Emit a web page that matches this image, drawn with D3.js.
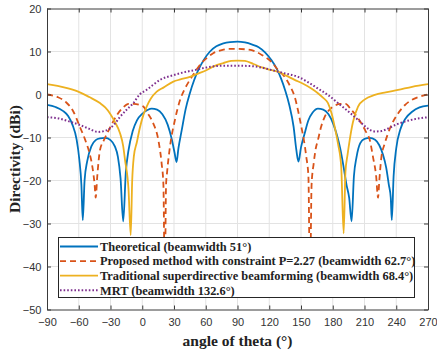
<!DOCTYPE html>
<html>
<head>
<meta charset="utf-8">
<title>Directivity vs angle of theta</title>
<script src="https://d3js.org/d3.v7.min.js"></script>
<style>
  body { margin: 0; background: #fff; }
  svg { display: block; }
  .tick text { font-family: "Liberation Sans", Arial, sans-serif; font-size: 11px; fill: #333; }
</style>
</head>
<body>
<div id="chart"></div>
<script>
// values: angle (deg) and directivity (dBi)
var thetaTheory = [-90, -82, -75, -70, -66, -62, -59.5, -57.5, -56.2, -54.5, -52, -48, -44, -40, -35, -30, -26, -23, -20.5, -18,
  -15.5, -13, -9, -5, 0, 5, 9, 14, 19, 24, 28, 30.5, 32.4, 34.2, 37.3, 41, 45, 49, 53, 58, 64, 70, 76.6, 83, 90,
  97, 104, 110, 116, 122, 127, 131, 135, 139, 143, 145.6, 147.6, 150, 153.5, 157, 161, 166, 171, 176, 180.3, 184, 187, 190,
  193, 195.5, 197.8, 200, 202.5, 206, 210, 215, 220, 224, 227.5, 230.5, 233, 234.8, 235.8, 237.5, 240, 244, 249, 255, 262, 270];
var dirTheory = [-2.4, -2.9, -3.8, -5, -7, -10.5, -15, -21, -29.2, -20, -15.5, -12, -10.6, -10.2, -10.1, -10.6, -12, -14.5, -19.5, -29.5,
  -18, -13, -8.5, -6, -4.5, -3.6, -3.3, -3.5, -4.6, -7, -10.5, -13.5, -15.7, -12.5, -8.3, -3.4, 0.3, 3.3, 5.7, 8, 10, 11.2, 11.9, 12.2, 12.3,
  12.1, 11.6, 11, 9.8, 8, 6, 3.8, 1, -2.5, -7.5, -12.9, -15.6, -12.3, -9, -6, -4.2, -3.3, -3.5, -4.6, -6.7, -9.5, -12.5, -16.5,
  -21, -24, -29.5, -19, -14.5, -11.3, -10.3, -10.1, -10.5, -11.8, -14, -17, -21, -24, -29.2, -19, -12.5, -8, -5.5, -4, -3, -2.6];

var thetaProposed = [-90, -80, -72, -65, -59, -54, -50, -47, -45, -44, -42.5, -40, -36, -30, -24, -18, -13, -8, -3, 1, 5, 10.4, 15.2, 18.3, 20,
  21.3, 22.5, 23.5, 26.2, 30.9, 35.7, 40, 45, 50, 56, 62, 67, 75, 82, 90, 98, 106, 113, 118, 122, 128, 134.6, 140, 144, 147, 150.3,
  153, 155, 157, 158.5, 160, 162, 164, 166, 169, 172.4, 177, 182, 187, 192, 197.6, 203, 207, 211, 215, 218, 221, 222.8, 224, 226,
  229, 232.3, 236, 241.7, 248, 254.3, 262, 270];
var dirProposed = [0, -0.6, -1.8, -4, -7.5, -10.5, -13.5, -17, -21, -24, -19, -13, -10.5, -7.5, -4.8, -3, -2.2, -2.2, -2.4, -2.8, -4.3, -6.7, -10.6, -16, -21,
  -45, -21, -18, -12.1, -5.9, -1.3, 1.2, 3.4, 5.3, 7.3, 8.7, 9.6, 10.3, 10.6, 10.6, 10.5, 10.1, 9.2, 8.4, 7.6, 5.8, 4.1, 1.8, -0.5, -3.5, -7.5,
  -11, -14.5, -19, -45, -21, -16, -12.5, -10.6, -7.5, -5.2, -3.5, -2.6, -2.2, -2.2, -3.6, -5.2, -6.7, -8.5, -10.6, -14.5, -19, -24, -20, -14.5,
  -11.5, -9, -6.8, -4.4, -2.5, -1.3, -0.5, 0];

var thetaTraditional = [-90, -80, -70, -59, -50, -40, -35, -30.5, -26, -21, -18, -16.3, -13, -10.9, -9.5, -8, -5, -2.3, 1, 4.2, 8, 13.7, 20,
  29.4, 36, 45, 52, 61, 68, 76.6, 84, 90, 97, 105, 113, 120, 128.3, 136, 144, 152, 159.8, 166, 171, 175.5, 179, 181.8, 185, 188, 190.3,
  192, 194, 196, 199, 203.9, 210, 219.7, 230, 241.7, 255, 270];
var dirTraditional = [2.4, 2.0, 1.4, 0.5, -0.6, -2, -3, -4.4, -6.3, -9, -12, -15.2, -22, -32.7, -20, -14.5, -11, -7.8, -4.8, -2.8, -1, 0.65, 1.6,
  3, 3.5, 4.1, 4.8, 5.7, 6.6, 7.3, 7.8, 7.9, 7.8, 7.1, 6.3, 5.8, 5.3, 4.4, 3.4, 2.5, 1.4, 0.3, -0.8, -2, -4.5, -7.5, -11.5, -16.8, -32.3,
  -18, -14, -10.6, -6.5, -2.8, -1.2, -0.1, 0.5, 1.05, 1.8, 2.4];

var thetaMRT = [-90, -80, -70, -58.8, -50, -42, -36, -30.5, -26, -21, -15, -8.4, -2.5, 4.2, 10, 16.8, 29.4, 40, 50, 60.9, 76.6, 90,
  103, 114, 122, 135, 147.2, 157, 166, 176, 185, 195, 203.9, 210, 219.7, 226, 232.3, 240, 248, 258, 270];
var dirMRT = [-5.3, -5.5, -6.2, -7.1, -8, -8.7, -8.5, -7.9, -6.8, -5.2, -3.6, -2, 0, 1.1, 2.2, 3.4, 4.5, 5.2, 5.7, 6.3, 6.7, 6.7,
  6.6, 6.2, 5.7, 4.9, 4.1, 2.8, 1.4, -0.2, -2, -4, -5.9, -7.3, -8.6, -8.5, -7.9, -7, -6.3, -5.7, -5.3];

var xTicks = [-90, -60, -30, 0, 30, 60, 90, 120, 150, 180, 210, 240, 270];
var yTicks = [-50, -40, -30, -20, -10, 0, 10, 20];

var seriesNames = [
  "Theoretical (beamwidth 51\u00b0)",
  "Proposed method with constraint P=2.27 (beamwidth 62.7\u00b0)",
  "Traditional superdirective beamforming (beamwidth 68.4\u00b0)",
  "MRT (beamwidth 132.6\u00b0)"
];
var seriesColors = ["#0072BD", "#D95319", "#EDB120", "#7E2F8E"];
var seriesDash = [null, "6,4", null, "1.6,2"];

var series = [
  d3.zip(thetaTheory, dirTheory),
  d3.zip(thetaProposed, dirProposed),
  d3.zip(thetaTraditional, dirTraditional),
  d3.zip(thetaMRT, dirMRT)
];

var W = 437, H = 352;
var x0 = 47, x1 = 428, y0 = 8.5, y1 = 309.5;

var svg = d3.select("#chart").append("svg")
    .attr("width", W)
    .attr("height", H);

var x = d3.scaleLinear().domain([-90, 270]).range([x0, x1]);
var y = d3.scaleLinear().domain([-50, 20]).range([y1, y0]);

// grid
svg.append("g")
  .selectAll("line")
  .data(xTicks.slice(1, -1))
  .join("line")
    .attr("x1", d => x(d)).attr("x2", d => x(d))
    .attr("y1", y0).attr("y2", y1)
    .attr("stroke", "#e3e3e3");
svg.append("g")
  .selectAll("line")
  .data(yTicks.slice(1, -1))
  .join("line")
    .attr("x1", x0).attr("x2", x1)
    .attr("y1", d => y(d)).attr("y2", d => y(d))
    .attr("stroke", "#e3e3e3");

svg.append("clipPath").attr("id", "clip")
  .append("rect")
    .attr("x", x0).attr("y", y0)
    .attr("width", x1 - x0).attr("height", y1 - y0);

var line = d3.line()
    .x(d => x(d[0]))
    .y(d => y(d[1]))
    .curve(d3.curveMonotoneX);

svg.append("g")
    .attr("clip-path", "url(#clip)")
  .selectAll("path")
  .data(series)
  .join("path")
    .attr("d", line)
    .attr("fill", "none")
    .attr("stroke", (d, i) => seriesColors[i])
    .attr("stroke-width", (d, i) => i == 3 ? 2 : 1.8)
    .attr("stroke-dasharray", (d, i) => seriesDash[i]);

// axes, ticks pointing inward on all four sides
function styleAxis(g) {
  g.select(".domain").attr("stroke", "#3a3a3a");
  g.selectAll(".tick line").attr("stroke", "#3a3a3a");
}
svg.append("g")
    .attr("transform", "translate(0," + y1 + ")")
    .call(d3.axisBottom(x).tickValues(xTicks).tickSize(-4).tickPadding(8.5).tickSizeOuter(0))
    .call(styleAxis);
svg.append("g")
    .attr("transform", "translate(0," + y0 + ")")
    .call(d3.axisTop(x).tickValues(xTicks).tickSize(-4).tickFormat("").tickSizeOuter(0))
    .call(styleAxis);
svg.append("g")
    .attr("transform", "translate(" + x0 + ",0)")
    .call(d3.axisLeft(y).tickValues(yTicks).tickSize(-4).tickPadding(5.5).tickSizeOuter(0))
    .call(styleAxis);
svg.append("g")
    .attr("transform", "translate(" + x1 + ",0)")
    .call(d3.axisRight(y).tickValues(yTicks).tickSize(-4).tickFormat("").tickSizeOuter(0))
    .call(styleAxis);

svg.selectAll(".tick text").attr("font-family", null).attr("font-size", null);

// axis titles
svg.append("text")
    .attr("x", (x0 + x1) / 2)
    .attr("y", 346)
    .attr("text-anchor", "middle")
    .attr("font-family", "'Liberation Serif', 'Times New Roman', serif")
    .attr("font-weight", "bold")
    .attr("font-size", 15.5)
    .attr("fill", "#222")
    .text("angle of theta (\u00b0)");
svg.append("text")
    .attr("transform", "translate(20," + (y0 + y1) / 2 + ") rotate(-90)")
    .attr("text-anchor", "middle")
    .attr("font-family", "'Liberation Serif', 'Times New Roman', serif")
    .attr("font-weight", "bold")
    .attr("font-size", 15.5)
    .attr("fill", "#222")
    .text("Directivity (dBi)");

// legend
var legend = svg.append("g");
legend.append("rect")
    .attr("x", 58.5).attr("y", 237.5)
    .attr("width", 356).attr("height", 60)
    .attr("fill", "#fff")
    .attr("stroke", "#262626")
    .attr("stroke-width", 1);

var rows = legend.selectAll("g.row")
  .data(seriesNames)
  .join("g")
    .attr("class", "row")
    .attr("transform", (d, i) => "translate(0," + (246.5 + i * 14.6) + ")");
rows.append("line")
    .attr("x1", 60).attr("x2", 98)
    .attr("stroke", (d, i) => seriesColors[i])
    .attr("stroke-width", (d, i) => i == 3 ? 2 : 1.8)
    .attr("stroke-dasharray", (d, i) => seriesDash[i]);
rows.append("text")
    .attr("x", 100)
    .attr("dy", "0.35em")
    .attr("font-family", "'Liberation Serif', 'Times New Roman', serif")
    .attr("font-weight", "bold")
    .attr("font-size", 12.4)
    .attr("fill", "#222")
    .text(d => d);
</script>
</body>
</html>
